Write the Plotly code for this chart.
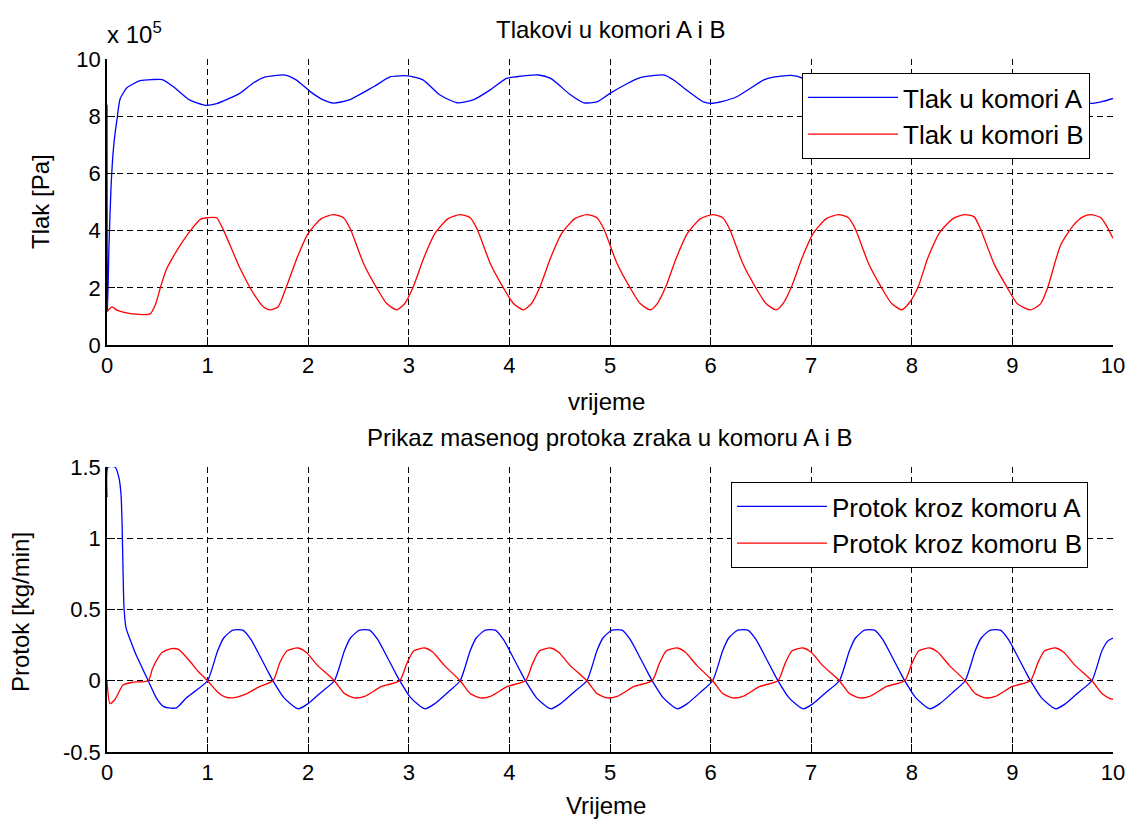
import plotly.graph_objects as go

# ---------------- data ----------------
# Top panel: pressure in chambers A and B, in units of 1e5 Pa
t_pA = [0, 0.005, 0.02, 0.04, 0.06, 0.08, 0.1, 0.13, 0.2, 0.33, 0.45, 0.55, 0.66, 0.82, 0.98,
        1.09, 1.32, 1.45, 1.56, 1.77, 1.88, 2.02, 2.15, 2.25, 2.41, 2.65, 2.82, 2.99, 3.14, 3.31,
        3.48, 3.64, 3.81, 3.97, 4.07, 4.29, 4.41, 4.61, 4.74, 4.87, 5.0, 5.15, 5.3, 5.54, 5.64,
        5.74, 5.93, 6.0, 6.12, 6.26, 6.53, 6.6, 6.8, 6.9, 7.05, 7.17, 7.27, 7.4, 7.57, 7.77,
        7.87, 8.02, 8.1, 8.2, 8.32, 8.44, 8.52, 8.64, 8.82, 9.02, 9.12, 9.27, 9.35, 9.45, 9.58,
        9.7, 9.78, 9.9, 10.0]
pA = [8.4, 1.2, 3.5, 5.5, 6.7, 7.4, 7.9, 8.6, 9.0, 9.24, 9.28, 9.28, 9.03, 8.57, 8.38,
      8.44, 8.8, 9.15, 9.36, 9.44, 9.27, 8.86, 8.57, 8.46, 8.57, 9.03, 9.38, 9.41, 9.27, 8.74,
      8.47, 8.57, 8.92, 9.32, 9.38, 9.44, 9.32, 8.74, 8.47, 8.5, 8.8, 9.1, 9.35, 9.44, 9.25,
      8.97, 8.5, 8.45, 8.52, 8.68, 9.27, 9.35, 9.43, 9.35, 8.9, 8.56, 8.45, 8.52, 8.8, 9.2,
      9.36, 9.42, 9.44, 9.3, 8.9, 8.56, 8.45, 8.52, 8.8, 9.2, 9.36, 9.42, 9.44, 9.3, 8.9,
      8.55, 8.45, 8.52, 8.62]

t_pB = [0, 0.05, 0.1, 0.16, 0.25, 0.43, 0.48, 0.53, 0.59, 0.66, 0.73, 0.83, 0.93, 1.0, 1.09,
        1.16, 1.32, 1.46, 1.56, 1.62, 1.7, 1.78, 1.89, 2.0, 2.13, 2.25, 2.35, 2.42, 2.55, 2.68,
        2.78, 2.88, 2.96, 3.04, 3.15, 3.26, 3.39, 3.51, 3.61, 3.68, 3.81, 3.94, 4.04, 4.14,
        4.22, 4.30, 4.41, 4.52, 4.65, 4.77, 4.87, 4.94, 5.07, 5.20, 5.30, 5.40, 5.47, 5.55,
        5.66, 5.77, 5.90, 6.02, 6.12, 6.19, 6.32, 6.45, 6.55, 6.65, 6.72, 6.80, 6.91, 7.02,
        7.15, 7.27, 7.37, 7.44, 7.57, 7.70, 7.80, 7.90, 7.97, 8.06, 8.16, 8.28, 8.41, 8.52,
        8.62, 8.68, 8.82, 8.95, 9.05, 9.18, 9.28, 9.35, 9.48, 9.61, 9.70, 9.78, 9.88, 9.93, 10.0]
pB = [1.16, 1.33, 1.22, 1.15, 1.09, 1.09, 1.4, 2.0, 2.64, 3.1, 3.5, 4.0, 4.4, 4.45, 4.45,
      4.0, 2.7, 1.78, 1.32, 1.23, 1.33, 2.0, 3.05, 3.9, 4.42, 4.56, 4.45, 4.05, 2.85, 2.0,
      1.45, 1.23, 1.45, 2.0, 3.05, 3.9, 4.42, 4.56, 4.45, 4.05, 2.85, 2.0, 1.45, 1.23,
      1.45, 2.0, 3.05, 3.9, 4.42, 4.56, 4.45, 4.05, 2.85, 2.0, 1.45, 1.23, 1.45, 2.0,
      3.05, 3.9, 4.42, 4.56, 4.45, 4.05, 2.85, 2.0, 1.45, 1.23, 1.45, 2.0, 3.05, 3.9,
      4.42, 4.56, 4.45, 4.05, 2.85, 2.0, 1.45, 1.23, 1.45, 2.0, 3.05, 3.95, 4.42, 4.56,
      4.48, 4.08, 2.82, 2.0, 1.44, 1.23, 1.44, 2.0, 3.5, 4.2, 4.48, 4.56, 4.45, 4.2, 3.73]

# Bottom panel: mass flow into chambers A and B [kg/min]
t_qA = [0, 0.01, 0.08, 0.12, 0.14, 0.15, 0.16, 0.17, 0.19, 0.24, 0.29, 0.35, 0.41, 0.49, 0.56,
        0.61, 0.69, 0.79, 0.9, 1.0,
        1.1, 1.16, 1.25, 1.35, 1.43, 1.53, 1.6, 1.65, 1.76, 1.9, 2.0, 2.13, 2.26,
        2.36, 2.42, 2.51, 2.61, 2.69, 2.79, 2.86, 2.91, 3.02, 3.16, 3.26, 3.39, 3.51,
        3.61, 3.67, 3.76, 3.86, 3.94, 4.04, 4.11, 4.16, 4.27, 4.41, 4.51, 4.64, 4.77,
        4.87, 4.93, 5.02, 5.12, 5.2, 5.3, 5.37, 5.42, 5.53, 5.67, 5.77, 5.9, 6.02,
        6.12, 6.18, 6.27, 6.37, 6.45, 6.55, 6.62, 6.67, 6.78, 6.92, 7.02, 7.15, 7.28,
        7.38, 7.44, 7.53, 7.63, 7.71, 7.81, 7.88, 7.93, 8.04, 8.18, 8.28, 8.41, 8.53,
        8.63, 8.69, 8.78, 8.88, 8.96, 9.06, 9.13, 9.18, 9.29, 9.43, 9.53, 9.66, 9.79,
        9.89, 9.95, 10.0]
qA = [1.29, 1.5, 1.5, 1.42, 1.3, 1.1, 0.75, 0.5, 0.37, 0.27, 0.18, 0.09, 0.0, -0.12, -0.18,
      -0.19, -0.19, -0.12, -0.06, 0.0,
      0.21, 0.30, 0.355, 0.355, 0.29, 0.16, 0.065, 0.0, -0.12, -0.197, -0.16, -0.08, 0.0,
      0.21, 0.30, 0.355, 0.355, 0.29, 0.16, 0.065, 0.0, -0.12, -0.197, -0.16, -0.08, 0.0,
      0.21, 0.30, 0.355, 0.355, 0.29, 0.16, 0.065, 0.0, -0.12, -0.197, -0.16, -0.08, 0.0,
      0.21, 0.30, 0.355, 0.355, 0.29, 0.16, 0.065, 0.0, -0.12, -0.197, -0.16, -0.08, 0.0,
      0.21, 0.30, 0.355, 0.355, 0.29, 0.16, 0.065, 0.0, -0.12, -0.197, -0.16, -0.08, 0.0,
      0.21, 0.30, 0.355, 0.355, 0.29, 0.16, 0.065, 0.0, -0.12, -0.197, -0.16, -0.08, 0.0,
      0.21, 0.30, 0.355, 0.355, 0.29, 0.16, 0.065, 0.0, -0.12, -0.197, -0.16, -0.08, 0.0,
      0.21, 0.28, 0.30]

t_qB = [0, 0.03, 0.08, 0.16, 0.26, 0.41, 0.45, 0.49, 0.55, 0.64, 0.71, 0.82, 0.9, 1.0, 1.1,
        1.18, 1.25, 1.39, 1.52, 1.65,
        1.72, 1.79, 1.9, 1.98, 2.09, 2.26, 2.36, 2.46, 2.56, 2.73, 2.91,
        2.98, 3.05, 3.16, 3.24, 3.35, 3.51, 3.61, 3.71, 3.81, 3.98, 4.16,
        4.23, 4.30, 4.41, 4.49, 4.60, 4.77, 4.87, 4.97, 5.07, 5.24, 5.42,
        5.49, 5.56, 5.67, 5.75, 5.86, 6.02, 6.12, 6.22, 6.32, 6.49, 6.67,
        6.74, 6.81, 6.92, 7.0, 7.11, 7.28, 7.38, 7.48, 7.58, 7.75, 7.93,
        8.0, 8.07, 8.18, 8.26, 8.37, 8.53, 8.63, 8.73, 8.83, 9.0, 9.18,
        9.25, 9.32, 9.43, 9.51, 9.62, 9.79, 9.89, 9.97, 10.0]
qB = [0.0, -0.16, -0.13, -0.03, -0.01, 0.0, 0.08, 0.14, 0.2, 0.225, 0.22, 0.14, 0.07, 0.0, -0.08,
      -0.115, -0.12, -0.09, -0.04, 0.0,
      0.13, 0.21, 0.23, 0.2, 0.11, 0.0, -0.09, -0.12, -0.11, -0.04, 0.0,
      0.12, 0.21, 0.23, 0.2, 0.11, 0.0, -0.09, -0.12, -0.11, -0.04, 0.0,
      0.12, 0.21, 0.23, 0.2, 0.11, 0.0, -0.09, -0.12, -0.11, -0.04, 0.0,
      0.12, 0.21, 0.23, 0.2, 0.11, 0.0, -0.09, -0.12, -0.11, -0.04, 0.0,
      0.12, 0.21, 0.23, 0.2, 0.11, 0.0, -0.09, -0.12, -0.11, -0.04, 0.0,
      0.12, 0.21, 0.23, 0.2, 0.11, 0.0, -0.09, -0.12, -0.11, -0.04, 0.0,
      0.12, 0.21, 0.23, 0.2, 0.11, 0.0, -0.09, -0.125, -0.13]

x_ticks = [0, 1, 2, 3, 4, 5, 6, 7, 8, 9, 10]
y1_ticks = [0, 2, 4, 6, 8, 10]
y2_ticks = [-0.5, 0, 0.5, 1, 1.5]
y2_ticklabels = ["-0.5", "0", "0.5", "1", "1.5"]

# ---------------- figure ----------------
FONT = "Liberation Sans, Arial, sans-serif"
W, H = 1128, 819
BLUE, RED = "#0000ff", "#ff0000"

fig = go.Figure()
fig.add_trace(go.Scatter(x=t_pA, y=pA, mode="lines", name="Tlak u komori A",
                         line=dict(color=BLUE, width=1.3, shape="spline", smoothing=0.6),
                         xaxis="x", yaxis="y", legend="legend"))
fig.add_trace(go.Scatter(x=t_pB, y=pB, mode="lines", name="Tlak u komori B",
                         line=dict(color=RED, width=1.3, shape="spline", smoothing=0.6),
                         xaxis="x", yaxis="y", legend="legend"))
fig.add_trace(go.Scatter(x=t_qA, y=qA, mode="lines", name="Protok kroz komoru A",
                         line=dict(color=BLUE, width=1.3, shape="spline", smoothing=0.6),
                         xaxis="x2", yaxis="y2", legend="legend2"))
fig.add_trace(go.Scatter(x=t_qB, y=qB, mode="lines", name="Protok kroz komoru B",
                         line=dict(color=RED, width=1.3, shape="spline", smoothing=0.6),
                         xaxis="x2", yaxis="y2", legend="legend2"))

TICKF = dict(family=FONT, size=22, color="black")
xdom = [107 / W, 1113 / W]
common_x = dict(domain=xdom, range=[0, 10], tickvals=x_ticks, showgrid=True,
                gridcolor="black", griddash="6px,4px", gridwidth=1,
                showline=True, linecolor="black", linewidth=1.5, mirror=False,
                ticks="inside", ticklen=8, tickcolor="black", zeroline=False,
                tickfont=TICKF, automargin=False)
common_y = dict(showgrid=True, gridcolor="black", griddash="6px,4px", gridwidth=1,
                showline=True, linecolor="black", linewidth=1.5, mirror=False,
                ticks="inside", ticklen=8, tickcolor="black", zeroline=False,
                tickfont=TICKF, automargin=False)

LEGF = dict(family=FONT, size=26, color="black")
fig.update_layout(
    width=W, height=H, margin=dict(l=0, r=0, t=0, b=0),
    paper_bgcolor="white", plot_bgcolor="white",
    xaxis=dict(anchor="y", **common_x),
    xaxis2=dict(anchor="y2", **common_x),
    yaxis=dict(anchor="x", domain=[1 - 345 / H, 1 - 59 / H], range=[0, 10],
               tickvals=y1_ticks, **common_y),
    yaxis2=dict(anchor="x2", domain=[1 - 752 / H, 1 - 467 / H], range=[-0.5, 1.5],
                tickvals=y2_ticks, ticktext=y2_ticklabels, **common_y),
    legend=dict(x=802 / W, y=1 - 73 / H, xanchor="left", yanchor="top",
                bgcolor="white", bordercolor="black", borderwidth=1,
                font=LEGF, itemwidth=90, tracegroupgap=0),
    legend2=dict(x=731 / W, y=1 - 482 / H, xanchor="left", yanchor="top",
                 bgcolor="white", bordercolor="black", borderwidth=1,
                 font=LEGF, itemwidth=90, tracegroupgap=0),
    showlegend=True,
)

tf = dict(family=FONT, size=24, color="black")
ann = [
    dict(text="Tlakovi u komori A i B", x=610 / W, y=1 - 30 / H),
    dict(text="Prikaz masenog protoka zraka u komoru A i B", x=610 / W, y=1 - 437 / H),
    dict(text="vrijeme", x=606 / W, y=1 - 401 / H),
    dict(text="Vrijeme", x=606 / W, y=1 - 805 / H),
]
for a in ann:
    fig.add_annotation(xref="paper", yref="paper", showarrow=False, font=tf,
                       xanchor="center", yanchor="middle", **a)
fig.add_annotation(text="Tlak [Pa]", xref="paper", yref="paper", x=40 / W, y=1 - 202 / H,
                   textangle=-90, showarrow=False, font=tf, xanchor="center", yanchor="middle")
fig.add_annotation(text="Protok [kg/min]", xref="paper", yref="paper", x=20 / W, y=1 - 612 / H,
                   textangle=-90, showarrow=False, font=tf, xanchor="center", yanchor="middle")
fig.add_annotation(text="x 10<sup>5</sup>", xref="paper", yref="paper", x=105 / W, y=1 - 33 / H,
                   showarrow=False, font=tf, xanchor="left", yanchor="middle")

fig.write_html("out.html", config={"displayModeBar": False},
               post_script="document.body.style.margin='0px';")
